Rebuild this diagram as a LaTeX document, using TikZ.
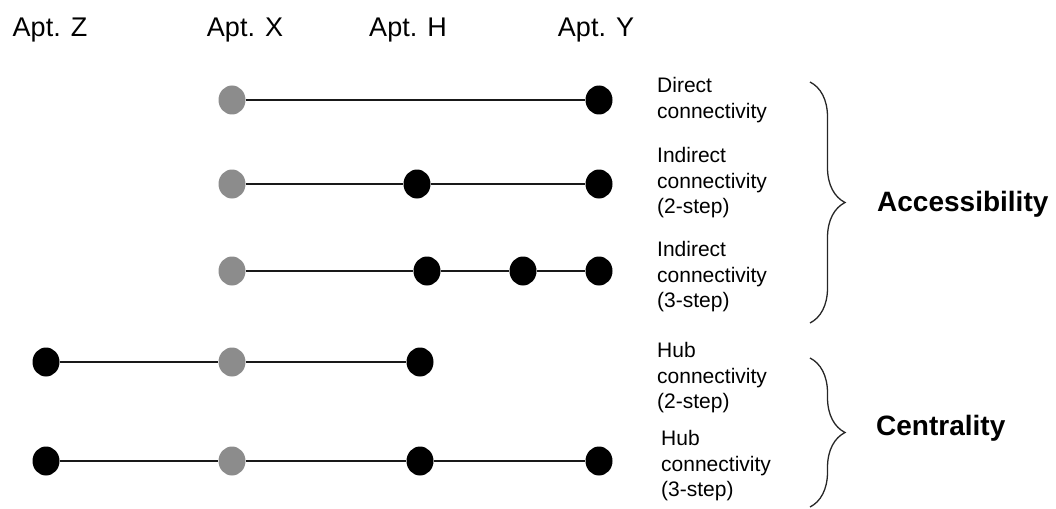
\documentclass[tikz,border=0pt]{standalone}
\usepackage{fontspec}
\setmainfont{Liberation Sans}
\usetikzlibrary{shapes.geometric,decorations.pathreplacing}
\begin{document}
\begin{tikzpicture}[x=1pt,y=-1pt,
  dotblack/.style={ellipse,fill=black,inner sep=0pt,minimum width=27pt,minimum height=29pt},
  dotgray/.style={ellipse,fill=gray!90,inner sep=0pt,minimum width=27pt,minimum height=29pt},
  link/.style={line width=1.6pt,black!90},
  aptlabel/.style={anchor=base,inner sep=0pt,font=\fontsize{27}{30}\selectfont},
  desc/.style={anchor=west,inner sep=0pt,align=left,font=\fontsize{21}{25.5}\selectfont},
  group/.style={anchor=west,inner sep=0pt,font=\fontsize{28}{32}\selectfont\bfseries},
  bracestyle/.style={decorate,decoration={brace,amplitude=35pt},line width=1.3pt,black!85}]
\useasboundingbox (0,0) rectangle (1056,508);
% header labels
\node[aptlabel] (lz) at (50,37) {Apt. Z};
\node[aptlabel] (lx) at (245,37) {Apt. X};
\node[aptlabel] (lh) at (408,37) {Apt. H};
\node[aptlabel] (ly) at (596,37) {Apt. Y};
% row 1
\node[dotgray] (x1) at (232,100) {};
\node[dotblack] (y1) at (599,100) {};
\draw[link] (x1) -- (y1);
% row 2
\node[dotgray] (x2) at (232,184) {};
\node[dotblack] (h2) at (417,184) {};
\node[dotblack] (y2) at (599,184) {};
\draw[link] (x2) -- (h2);
\draw[link] (h2) -- (y2);
% row 3
\node[dotgray] (x3) at (232,271) {};
\node[dotblack] (a3) at (427,271) {};
\node[dotblack] (b3) at (523,271) {};
\node[dotblack] (y3) at (599,271) {};
\draw[link] (x3) -- (a3);
\draw[link] (a3) -- (b3);
\draw[link] (b3) -- (y3);
% row 4
\node[dotblack] (z4) at (46,362) {};
\node[dotgray] (x4) at (232,362) {};
\node[dotblack] (h4) at (420,362) {};
\draw[link] (z4) -- (x4);
\draw[link] (x4) -- (h4);
% row 5
\node[dotblack] (z5) at (46,461) {};
\node[dotgray] (x5) at (232,461) {};
\node[dotblack] (h5) at (420,461) {};
\node[dotblack] (y5) at (599,461) {};
\draw[link] (z5) -- (x5);
\draw[link] (x5) -- (h5);
\draw[link] (h5) -- (y5);
% descriptions
\node[desc] (d1) at (657,100) {Direct\\connectivity};
\node[desc] (d2) at (657,183) {Indirect\\connectivity\\(2-step)};
\node[desc] (d3) at (657,277) {Indirect\\connectivity\\(3-step)};
\node[desc] (d4) at (657,378) {Hub\\connectivity\\(2-step)};
\node[desc] (d5) at (661,466) {Hub\\connectivity\\(3-step)};
% braces
\coordinate (b1t) at (810,82);
\coordinate (b1b) at (810,323);
\coordinate (b2t) at (810,358);
\coordinate (b2b) at (810,507);
\draw[bracestyle] (b1t) -- (b1b);
\draw[bracestyle] (b2t) -- (b2b);
\node[group] (acc) at (877,204) {Accessibility};
\node[group] (cen) at (876,428) {Centrality};
\end{tikzpicture}
\end{document}
